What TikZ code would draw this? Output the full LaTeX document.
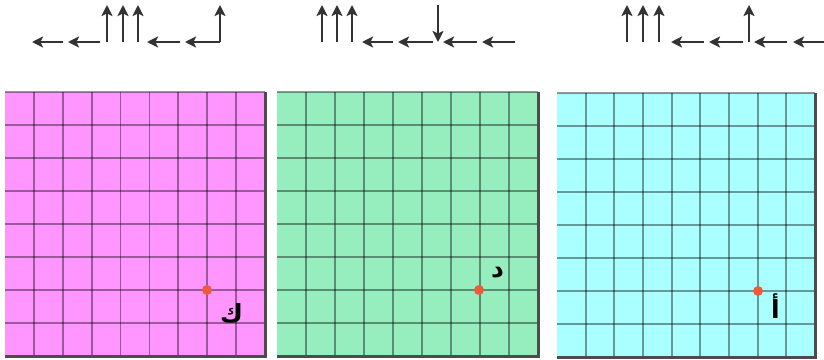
\documentclass[tikz,border=0pt]{standalone}
\usepackage{fontspec}
\usepackage{xcolor}
\usepackage{tikz}
\usetikzlibrary{arrows.meta, positioning, calc}
\newfontfamily\arabicfont[Script=Arabic]{DejaVu Sans}
\TeXXeTstate=1

\definecolor{gridpink}{RGB}{255,150,255}
\definecolor{gridgreen}{RGB}{150,238,190}
\definecolor{gridcyan}{RGB}{170,255,255}
\definecolor{dotred}{RGB}{240,90,60}

\begin{document}
\begin{tikzpicture}[x=1pt, y=-1pt,
        dirarrow/.style={-{Stealth[length=11pt, width=11pt, inset=2.5pt]}, line width=2.8pt, black!80},
        gridline/.style={line width=1.8pt, black, opacity=0.4},
        gridedge/.style={line width=3pt, black!70},
        arlabel/.style={inner sep=0pt, font=\arabicfont\bfseries\fontsize{25}{28}\selectfont}]
    \useasboundingbox (0,0) rectangle (824,359);

    \foreach \tail/\tip in {63/32, 100/68, 180/147, 220/185, 393/362, 433/398, 477/443, 515/482, 704/671, 743/709, 787/754, 826/793}
        \draw[dirarrow] (\tail,42) -- (\tip,42);
    \foreach \x in {107, 123, 138, 220, 322, 337, 352, 627, 643, 659, 749}
        \draw[dirarrow] (\x,42) -- (\x,5);
    \draw[dirarrow] (438,5) -- (438,42);

    \foreach \gx/\gy/\gw/\gcol in {5/92/260/gridpink, 277/92/261/gridgreen, 557/93/258/gridcyan} {
        \fill[\gcol] (\gx,\gy) rectangle ++(\gw,264);
        \foreach \i in {1,...,8}
            \draw[gridline] ({\gx+\i*\gw/9},\gy) -- ++(0,264);
        \foreach \j in {0,...,7}
            \draw[gridline] (\gx,{\gy+\j*33}) -- ++(\gw,0);
        \draw[gridedge] ({\gx+\gw},\gy) -- ++(0,264) -- ++(-\gw,0);
    }

    \coordinate (kdot) at (207,290);
    \coordinate (ddot) at (479,290);
    \coordinate (adot) at (758,291);
    \foreach \d in {kdot, ddot, adot}
        \fill[dotred] (\d) circle (5);

    \node (klabel) [arlabel, below right=13pt and 13pt of kdot] {\beginR ك\endR};
    \node (dlabel) [arlabel, above right=12pt and 12pt of ddot] {\beginR د\endR};
    \node (alabel) [arlabel, below right=2pt and 13pt of adot] {\beginR أ\endR};
\end{tikzpicture}
\end{document}
